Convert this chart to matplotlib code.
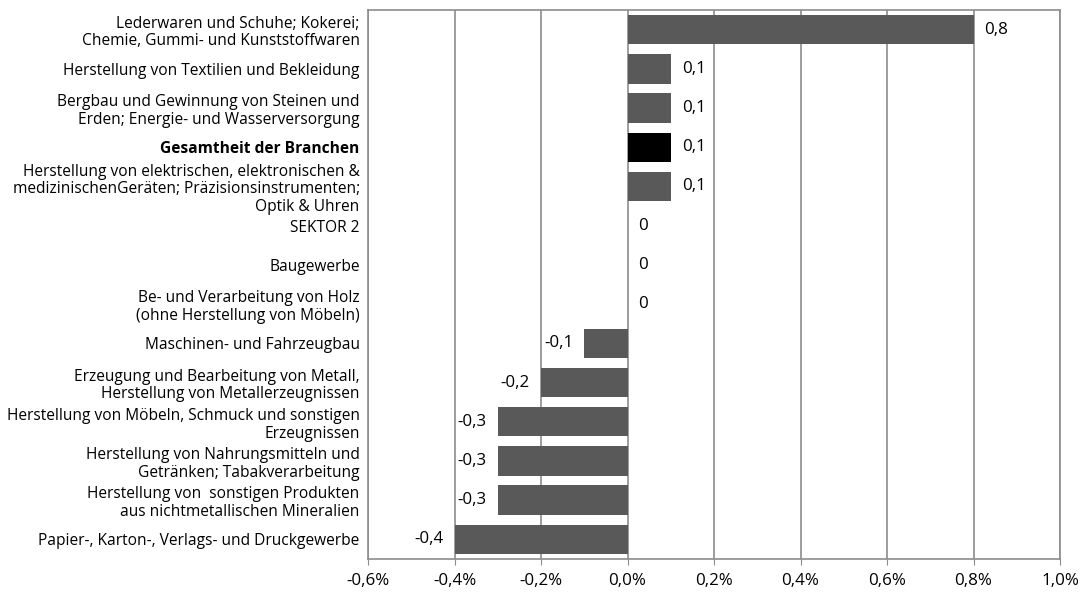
import matplotlib.pyplot as plt
from matplotlib.ticker import FuncFormatter

categories = [
    "Lederwaren und Schuhe; Kokerei;\nChemie, Gummi- und Kunststoffwaren",
    "Herstellung von Textilien und Bekleidung",
    "Bergbau und Gewinnung von Steinen und\nErden; Energie- und Wasserversorgung",
    "Gesamtheit der Branchen",
    "Herstellung von elektrischen, elektronischen &\nmedizinischenGeräten; Präzisionsinstrumenten;\nOptik & Uhren",
    "SEKTOR 2",
    "Baugewerbe",
    "Be- und Verarbeitung von Holz\n(ohne Herstellung von Möbeln)",
    "Maschinen- und Fahrzeugbau",
    "Erzeugung und Bearbeitung von Metall,\nHerstellung von Metallerzeugnissen",
    "Herstellung von Möbeln, Schmuck und sonstigen\nErzeugnissen",
    "Herstellung von Nahrungsmitteln und\nGetränken; Tabakverarbeitung",
    "Herstellung von  sonstigen Produkten\naus nichtmetallischen Mineralien",
    "Papier-, Karton-, Verlags- und Druckgewerbe",
]
values = [0.8, 0.1, 0.1, 0.1, 0.1, 0.0, 0.0, 0.0, -0.1, -0.2, -0.3, -0.3, -0.3, -0.4]
value_labels = ["0,8", "0,1", "0,1", "0,1", "0,1", "0", "0", "0",
                "-0,1", "-0,2", "-0,3", "-0,3", "-0,3", "-0,4"]
highlight = "Gesamtheit der Branchen"

plt.rcParams["font.family"] = ["Open Sans", "DejaVu Sans"]
plt.rcParams["font.size"] = 11.2

fig = plt.figure(figsize=(10.82, 5.92), dpi=100)
ax = fig.add_axes([368 / 1082, 1 - 559 / 592, (1060 - 368) / 1082, (559 - 10) / 592])

pos = list(range(len(categories)))
colors = ["#000000" if c == highlight else "#595959" for c in categories]
ax.barh(pos, values, height=0.75, color=colors, zorder=3)

ax.set_xlim(-0.6, 1.0)
ax.set_ylim(len(categories) - 0.5, -0.5)
ax.set_xticks([-0.6, -0.4, -0.2, 0.0, 0.2, 0.4, 0.6, 0.8, 1.0])
ax.xaxis.set_major_formatter(FuncFormatter(lambda v, _: f"{v:.1f}%".replace(".", ",")))
ax.grid(axis="x", color="#8c8c8c", linewidth=1.2, zorder=0)

ax.set_yticks(pos)
ax.set_yticklabels(categories, linespacing=1.15)
for lbl in ax.get_yticklabels():
    if lbl.get_text() == highlight:
        lbl.set_fontweight("bold")
ax.tick_params(axis="y", length=0, pad=6)
ax.tick_params(axis="x", length=4, color="#8c8c8c", pad=6, labelsize=12.2)

for s in ax.spines.values():
    s.set_color("#8c8c8c")
    s.set_linewidth(1.2)

for p, v, t in zip(pos, values, value_labels):
    if v < 0:
        ax.annotate(t, (v, p), xytext=(-8, 0), textcoords="offset points",
                    ha="right", va="center", fontsize=12.2)
    else:
        ax.annotate(t, (v, p), xytext=(8, 0), textcoords="offset points",
                    ha="left", va="center", fontsize=12.2)

fig.savefig("out.png", dpi=100)
